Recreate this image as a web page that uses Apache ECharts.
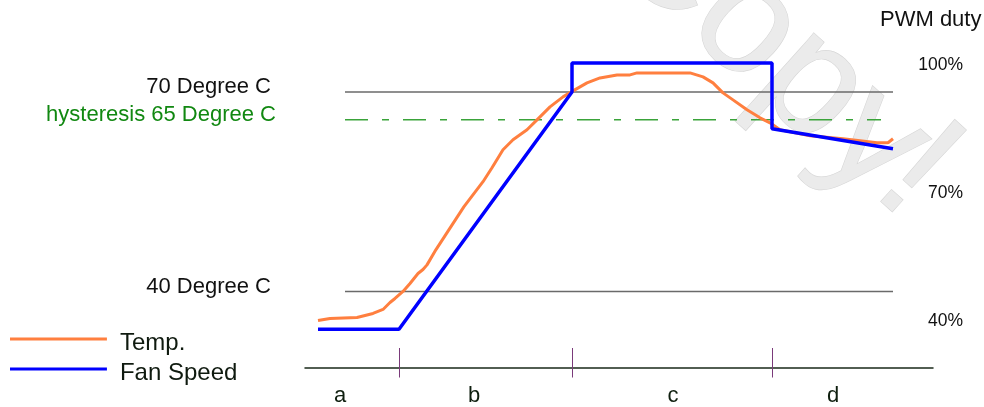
<!DOCTYPE html>
<html>
<head>
<meta charset="utf-8">
<script src="https://cdn.jsdelivr.net/npm/echarts@6/dist/echarts.min.js"></script>
<style>
html,body{margin:0;padding:0;background:#fff;}
#chart{width:984px;height:407px;}
</style>
</head>
<body>
<div id="chart"></div>
<script>
// ---- data (time in arbitrary units, temperature in degree C, PWM duty in %) ----
var tempTime = [1.3, 2.5, 5.2, 6.8, 7.8, 8.5, 9.0, 9.8, 10.5, 11.3, 11.8, 12.2, 13.1, 14.4, 15.9, 17.8, 18.7, 19.8, 20.8, 22.2, 23.2, 24.5, 25.8, 26.8, 28.2, 29.5, 31.2, 32.5, 33.2, 38.5, 39.8, 40.8, 41.8, 42.8, 44.2, 45.5, 46.5, 47.5, 50.5, 53.8, 57.2, 58.3, 58.8];
var tempDeg  = [35.65, 35.95, 36.1, 36.7, 37.3, 38.35, 38.95, 40.0, 41.2, 42.7, 43.3, 44.0, 46.3, 49.3, 52.75, 56.5, 58.6, 61.3, 62.8, 64.3, 65.8, 67.75, 69.25, 70.15, 71.35, 72.1, 72.55, 72.55, 72.85, 72.85, 72.25, 71.35, 69.85, 68.8, 67.3, 66.1, 65.35, 64.3, 63.4, 62.95, 62.35, 62.35, 62.95];
var fanTime  = [1.3, 9.4, 26.7, 26.7, 46.7, 46.7, 58.8];
var fanDuty  = [38.0, 38.0, 93.7, 100.5, 100.5, 85.1, 80.4];
var phaseBounds = [9.4, 26.7, 46.7];
var phaseNames = ['a', 'b', 'c', 'd'];
var phaseLabelPos = [3.5, 16.9, 36.8, 52.8];
var dutyTicks = [40, 70, 100];
var refTemps = [70, 40];
var refLabels = ['70 Degree C', '40 Degree C'];
var hystTemp = 65.8;
var hystLabel = 'hysteresis 65 Degree C';
var refStart = 4.0, refEnd = 58.8, hystEnd = 57.6;
var seriesNames = ['Temp.', 'Fan Speed'];

var FONT = 'Liberation Sans, Arial, sans-serif';
var chart = echarts.init(document.getElementById('chart'));

function pairs(xs, ys){ return xs.map(function(x,i){ return [x, ys[i]]; }); }

var series = [];
refTemps.forEach(function(t){
  series.push({type:'line', yAxisIndex:0, data:[[refStart,t],[refEnd,t]], symbol:'none', silent:true,
    lineStyle:{color:'#6a6a6a', width:1.5}, z:1});
});
series.push({type:'line', yAxisIndex:0, data:[[refStart,hystTemp],[hystEnd,hystTemp]], symbol:'none', silent:true,
  lineStyle:{color:'#3aa33a', width:1.5, type:[23,14,7,14]}, z:1});
series.push({name:seriesNames[0], type:'line', yAxisIndex:0, data:pairs(tempTime,tempDeg), symbol:'none',
  lineStyle:{color:'#ff7f3f', width:3}, itemStyle:{color:'#ff7f3f'}, z:3});
series.push({name:seriesNames[1], type:'line', yAxisIndex:1, data:pairs(fanTime,fanDuty), symbol:'none',
  lineStyle:{color:'#0000ff', width:3.5}, itemStyle:{color:'#0000ff'}, z:4});

chart.setOption({
  animation:false,
  grid:{left:305, right:51, top:32, bottom:38.33},
  legend:{data:seriesNames, orient:'vertical', left:10, top:328.5, padding:0, itemGap:0,
    icon:'path://M0,0H97V3H0Z M0,12H0.01V12.01H0Z', itemWidth:97, itemHeight:12,
    textStyle:{fontFamily:FONT, fontSize:24, color:'#0f1a0f', lineHeight:30, padding:[0,0,0,8]}},
  xAxis:[{type:'value', min:0, max:62.8, position:'bottom',
      axisLine:{show:true, lineStyle:{color:'#1a2a1a', width:1.5}},
      axisTick:{show:true, inside:true, length:20, customValues:phaseBounds, lineStyle:{color:'#7a3a7a', width:1}},
      axisLabel:{show:false}, splitLine:{show:false}},
    {type:'value', min:0, max:62.8, position:'bottom',
      axisLine:{show:false},
      axisTick:{show:true, inside:false, length:9.5, customValues:phaseBounds, lineStyle:{color:'#7a3a7a', width:1}},
      axisLabel:{show:true, customValues:phaseLabelPos, margin:17, fontFamily:FONT, fontSize:22, color:'#0f1f0f',
        formatter:function(v){ var i = phaseLabelPos.indexOf(v); return i>=0 ? phaseNames[i] : ''; }},
      splitLine:{show:false}}],
  yAxis:[{type:'value', min:28.5, max:79, show:false, splitLine:{show:false}},
    {type:'value', min:28.9, max:107.8, position:'right', axisLine:{show:false}, axisTick:{show:false},
      splitLine:{show:false},
      axisLabel:{show:true, customValues:dutyTicks, formatter:'{value}%', align:'right', margin:30,
        fontFamily:FONT, fontSize:17.5, color:'#111'}}],
  series:series
});

// annotations positioned through the chart's scales
var g = [];
var rot = -42*Math.PI/180, bx = Math.cos(42*Math.PI/180), by = Math.sin(42*Math.PI/180);
var wmStyle = {fill:'#ebebeb', stroke:'#d6d6d6', lineWidth:1.2};
g.push({type:'text', z:0, x:902, y:223, rotation:rot, silent:true,
  style:Object.assign({text:'!', x:0, y:34, align:'right', verticalAlign:'bottom', font:'160px ' + FONT}, wmStyle)});
g.push({type:'text', z:0, x:902-62*bx+18, y:223-62*by+22, rotation:rot, silent:true,
  style:Object.assign({text:'Copy', x:0, y:34, align:'right', verticalAlign:'bottom', font:'160px ' + FONT}, wmStyle)});
refTemps.forEach(function(t,i){
  var p = chart.convertToPixel({xAxisIndex:0, yAxisIndex:0}, [refStart, t]);
  g.push({type:'text', x:p[0]-74, y:p[1]-5, silent:true,
    style:{text:refLabels[i], align:'right', verticalAlign:'middle', font:'22px ' + FONT, fill:'#111'}});
});
var ph = chart.convertToPixel({xAxisIndex:0, yAxisIndex:0}, [refStart, hystTemp]);
g.push({type:'text', x:ph[0]-69, y:ph[1]-5, silent:true,
  style:{text:hystLabel, align:'right', verticalAlign:'middle', font:'22px ' + FONT, fill:'#118811'}});
g.push({type:'text', x:880, y:20, silent:true,
  style:{text:'PWM duty', align:'left', verticalAlign:'middle', font:'22px ' + FONT, fill:'#111'}});
chart.setOption({graphic:g});
</script>
</body>
</html>
